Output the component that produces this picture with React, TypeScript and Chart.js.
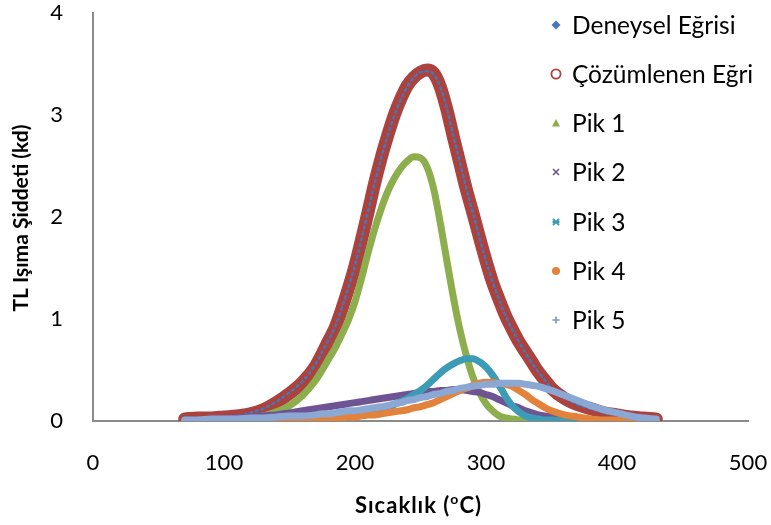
import { useEffect, useRef } from "react";
import { Chart, registerables } from "chart.js";

Chart.register(...registerables);

// Temperature grid (°C) shared by every curve
const temperatures = [
  70, 80, 90, 100, 110, 120, 130, 140, 150, 160, 170,
  175, 180, 185, 190, 195, 200, 205, 210, 215, 220, 225, 230, 235, 240, 245,
  250, 255, 260, 265, 270, 275, 280, 285, 290, 295, 300, 305, 310, 315, 320,
  325, 330, 335, 340, 345,
  350, 360, 370, 380, 390, 400, 410, 420, 430,
];

// Measured glow curve
const deneysel = [
  0.02, 0.03, 0.03, 0.04, 0.05, 0.08, 0.12, 0.19, 0.28, 0.39, 0.56,
  0.68, 0.8, 0.93, 1.11, 1.31, 1.53, 1.79, 2.06, 2.33, 2.58, 2.8, 2.99, 3.15, 3.28, 3.37,
  3.42, 3.43, 3.4, 3.28, 3.07, 2.8, 2.54, 2.28, 2.04, 1.8, 1.57, 1.37, 1.19, 1.03, 0.9,
  0.78, 0.67, 0.57, 0.48, 0.4,
  0.32, 0.23, 0.16, 0.12, 0.08, 0.06, 0.04, 0.03, 0.02,
];

// Fitted (deconvolved) sum curve
const cozumlenen = [
  0.02, 0.03, 0.03, 0.04, 0.05, 0.07, 0.11, 0.18, 0.27, 0.38, 0.54,
  0.66, 0.79, 0.92, 1.1, 1.3, 1.52, 1.78, 2.05, 2.33, 2.58, 2.8, 3.0, 3.16, 3.29, 3.37,
  3.42, 3.44, 3.41, 3.28, 3.06, 2.79, 2.53, 2.27, 2.04, 1.8, 1.57, 1.36, 1.19, 1.03, 0.9,
  0.78, 0.68, 0.58, 0.48, 0.4,
  0.32, 0.22, 0.16, 0.12, 0.08, 0.06, 0.04, 0.03, 0.02,
];

const pik1 = [
  0, 0, 0.01, 0.01, 0.02, 0.03, 0.05, 0.09, 0.15, 0.25, 0.4,
  0.5, 0.61, 0.72, 0.85, 0.99, 1.17, 1.4, 1.65, 1.88, 2.08, 2.25, 2.38, 2.48, 2.55, 2.59,
  2.58, 2.49, 2.28, 1.95, 1.58, 1.22, 0.9, 0.64, 0.43, 0.28, 0.17, 0.1, 0.05, 0.03, 0.02,
  0.01, 0, 0, 0, 0,
  0, 0, 0, 0, 0, 0, 0, 0, 0,
];

const pik2 = [
  0.01, 0.01, 0.02, 0.02, 0.03, 0.04, 0.05, 0.06, 0.08, 0.1, 0.12,
  0.13, 0.14, 0.15, 0.16, 0.17, 0.18, 0.19, 0.2, 0.21, 0.22, 0.23, 0.24, 0.25, 0.26, 0.27,
  0.28, 0.29, 0.29, 0.3, 0.3, 0.31, 0.31, 0.3, 0.29, 0.28, 0.26, 0.24, 0.21, 0.18, 0.15,
  0.13, 0.1, 0.08, 0.06, 0.05,
  0.04, 0.02, 0.01, 0.01, 0, 0, 0, 0, 0,
];

const pik3 = [
  0, 0, 0, 0, 0, 0, 0, 0, 0.01, 0.01, 0.01,
  0.02, 0.02, 0.03, 0.03, 0.04, 0.05, 0.06, 0.07, 0.09, 0.11, 0.13, 0.16, 0.19, 0.22, 0.26,
  0.3, 0.35, 0.41, 0.47, 0.52, 0.56, 0.59, 0.61, 0.61, 0.58, 0.53, 0.45, 0.35, 0.24, 0.15,
  0.09, 0.05, 0.03, 0.02, 0.01,
  0.01, 0, 0, 0, 0, 0, 0, 0, 0,
];

const pik4 = [
  0, 0, 0, 0, 0, 0, 0, 0.01, 0.01, 0.01, 0.02,
  0.02, 0.02, 0.03, 0.03, 0.04, 0.04, 0.05, 0.06, 0.06, 0.07, 0.08, 0.09, 0.1, 0.11, 0.13,
  0.14, 0.16, 0.18, 0.21, 0.24, 0.27, 0.3, 0.32, 0.35, 0.37, 0.38, 0.38, 0.37, 0.36, 0.34,
  0.3, 0.26, 0.21, 0.17, 0.13,
  0.1, 0.06, 0.04, 0.02, 0.01, 0.01, 0, 0, 0,
];

const pik5 = [
  0.01, 0.01, 0.02, 0.02, 0.02, 0.03, 0.03, 0.04, 0.05, 0.05, 0.06,
  0.07, 0.07, 0.08, 0.09, 0.1, 0.1, 0.11, 0.12, 0.13, 0.14, 0.15, 0.17, 0.18, 0.2, 0.21,
  0.23, 0.24, 0.26, 0.27, 0.29, 0.3, 0.32, 0.33, 0.34, 0.35, 0.36, 0.36, 0.37, 0.37, 0.37,
  0.37, 0.36, 0.35, 0.34, 0.32,
  0.3, 0.25, 0.2, 0.15, 0.11, 0.08, 0.05, 0.03, 0.02,
];

const seriesNames = [
  "Deneysel Eğrisi",
  "Çözümlenen Eğri",
  "Pik 1",
  "Pik 2",
  "Pik 3",
  "Pik 4",
  "Pik 5",
];
const seriesValues = [deneysel, cozumlenen, pik1, pik2, pik3, pik4, pik5];
const seriesColors = [
  "#4677B8",
  "#AB423E",
  "#8CAE4C",
  "#6F5494",
  "#3C9CB6",
  "#E3823A",
  "#8BA7D3",
];
const markerKinds = ["diamond", "ring", "triangle", "cross", "star", "dot", "plus"];

const xTicks = [0, 100, 200, 300, 400, 500];
const yTicks = [0, 1, 2, 3, 4];
const xTitle = ["Sıcaklık (", "o", "C)"];
const yTitle = "TL Işıma Şiddeti (kd)";

const FONT = "Lato, 'Open Sans', sans-serif";

function drawMarker(ctx: CanvasRenderingContext2D, kind: string, x: number, y: number, color: string) {
  ctx.save();
  ctx.fillStyle = color;
  ctx.strokeStyle = color;
  ctx.lineWidth = 1.6;
  ctx.beginPath();
  switch (kind) {
    case "diamond":
      ctx.moveTo(x, y - 4.5);
      ctx.lineTo(x + 4.5, y);
      ctx.lineTo(x, y + 4.5);
      ctx.lineTo(x - 4.5, y);
      ctx.closePath();
      ctx.fill();
      break;
    case "ring":
      ctx.lineWidth = 1.8;
      ctx.arc(x, y, 4.6, 0, Math.PI * 2);
      ctx.stroke();
      break;
    case "triangle":
      ctx.moveTo(x, y - 4);
      ctx.lineTo(x + 4, y + 3.5);
      ctx.lineTo(x - 4, y + 3.5);
      ctx.closePath();
      ctx.fill();
      break;
    case "cross":
      ctx.moveTo(x - 3, y - 3);
      ctx.lineTo(x + 3, y + 3);
      ctx.moveTo(x + 3, y - 3);
      ctx.lineTo(x - 3, y + 3);
      ctx.stroke();
      break;
    case "star":
      ctx.lineWidth = 2;
      ctx.moveTo(x - 3, y - 3);
      ctx.lineTo(x + 3, y + 3);
      ctx.moveTo(x + 3, y - 3);
      ctx.lineTo(x - 3, y + 3);
      ctx.moveTo(x - 3.5, y);
      ctx.lineTo(x + 3.5, y);
      ctx.stroke();
      break;
    case "dot":
      ctx.arc(x, y, 4, 0, Math.PI * 2);
      ctx.fill();
      break;
    case "plus":
      ctx.lineWidth = 2;
      ctx.moveTo(x - 3.5, y);
      ctx.lineTo(x + 3.5, y);
      ctx.moveTo(x, y - 3.5);
      ctx.lineTo(x, y + 3.5);
      ctx.stroke();
      break;
  }
  ctx.restore();
}

// Legend rows sit over the right part of the plot; titles are drawn by hand
const legendMarkerX = 556;
const legendTextX = 572;
const legendRowY = [25, 74, 123, 172, 222, 271, 320];

const overlayPlugin = {
  id: "overlay",
  afterDraw(chart: Chart) {
    const ctx = chart.ctx as any;
    const area = chart.chartArea;
    ctx.save();

    // legend
    ctx.font = `24.5px ${FONT}`;
    ctx.fillStyle = "#000";
    ctx.textBaseline = "middle";
    ctx.textAlign = "left";
    chart.data.datasets.forEach((ds: any, i: number) => {
      drawMarker(ctx, markerKinds[i], legendMarkerX, legendRowY[i], seriesColors[i]);
      ctx.fillStyle = "#000";
      ctx.fillText(ds.label, legendTextX, legendRowY[i] + 1);
    });

    // x axis title with superscript degree mark
    const big = `bold 22px ${FONT}`;
    const small = `bold 14px ${FONT}`;
    ctx.letterSpacing = "1px";
    ctx.font = big;
    const w0 = ctx.measureText(xTitle[0]).width;
    const w2 = ctx.measureText(xTitle[2]).width;
    ctx.font = small;
    const w1 = ctx.measureText(xTitle[1]).width;
    const total = w0 + w1 + w2;
    let cx = (area.left + area.right) / 2 - total / 2 - 2;
    const ty = 505;
    ctx.textBaseline = "alphabetic";
    ctx.font = big;
    ctx.fillText(xTitle[0], cx, ty + 8);
    cx += w0;
    ctx.font = small;
    ctx.fillText(xTitle[1], cx, ty - 1);
    cx += w1;
    ctx.font = big;
    ctx.fillText(xTitle[2], cx, ty + 8);
    ctx.letterSpacing = "0px";

    // y axis title
    ctx.translate(21, (area.top + area.bottom) / 2 + 1);
    ctx.rotate(-Math.PI / 2);
    ctx.textAlign = "center";
    ctx.textBaseline = "middle";
    ctx.font = `bold 21px ${FONT}`;
    ctx.fillText(yTitle, 0, 0);
    ctx.restore();
  },
};

export default function App() {
  const canvasRef = useRef<HTMLCanvasElement | null>(null);

  useEffect(() => {
    const canvas = canvasRef.current;
    if (!canvas) return;

    const datasets = seriesNames.map((name, i) => {
      const isFit = i === 1;
      const isMeasured = i === 0;
      return {
        label: name,
        data: temperatures.map((t, k) => ({ x: t, y: seriesValues[i][k] })),
        borderColor: seriesColors[i],
        backgroundColor: seriesColors[i],
        borderWidth: isFit ? 13 : isMeasured ? 2.5 : 7,
        borderDash: isMeasured ? [2, 4] : [],
        borderCapStyle: "round" as const,
        borderJoinStyle: "round" as const,
        pointRadius: 0,
        pointHoverRadius: 0,
        cubicInterpolationMode: "monotone" as const,
        fill: false,
        // later series are painted over earlier ones; the measured trace sits on the fit band
        order: isFit ? 7 : isMeasured ? 6 : 7 - i,
      };
    });

    const chart = new Chart(canvas, {
      type: "line",
      data: { datasets },
      options: {
        animation: false,
        responsive: true,
        maintainAspectRatio: false,
        events: [],
        layout: { autoPadding: false, padding: { top: 13, right: 23, left: 0, bottom: 0 } },
        plugins: {
          legend: { display: false },
          tooltip: { enabled: false },
          title: { display: false },
        },
        scales: {
          x: {
            type: "linear",
            min: xTicks[0],
            max: xTicks[xTicks.length - 1],
            afterBuildTicks: (scale: any) => {
              scale.ticks = xTicks.map((v) => ({ value: v }));
            },
            afterFit: (scale: any) => {
              scale.height = 104;
              scale.paddingLeft = 0;
              scale.paddingRight = 0;
            },
            grid: { display: false, drawTicks: false },
            border: { display: true, color: "#8A8A8A", width: 2 },
            ticks: {
              color: "#000",
              font: { family: FONT, size: 22 },
              padding: 29,
              maxRotation: 0,
            },
          },
          y: {
            type: "linear",
            min: yTicks[0],
            max: yTicks[yTicks.length - 1],
            afterBuildTicks: (scale: any) => {
              scale.ticks = yTicks.map((v) => ({ value: v }));
            },
            afterFit: (scale: any) => {
              scale.width = 93;
              scale.paddingTop = 0;
              scale.paddingBottom = 0;
            },
            grid: { display: false, drawTicks: false },
            border: { display: true, color: "#8A8A8A", width: 2 },
            ticks: {
              color: "#000",
              font: { family: FONT, size: 22 },
              padding: 30,
            },
          },
        },
      },
      plugins: [overlayPlugin],
    });

    return () => chart.destroy();
  }, []);

  return (
    <div style={{ position: "fixed", left: 0, top: 0, width: 771, height: 525, background: "#fff" }}>
      <canvas ref={canvasRef} />
    </div>
  );
}
